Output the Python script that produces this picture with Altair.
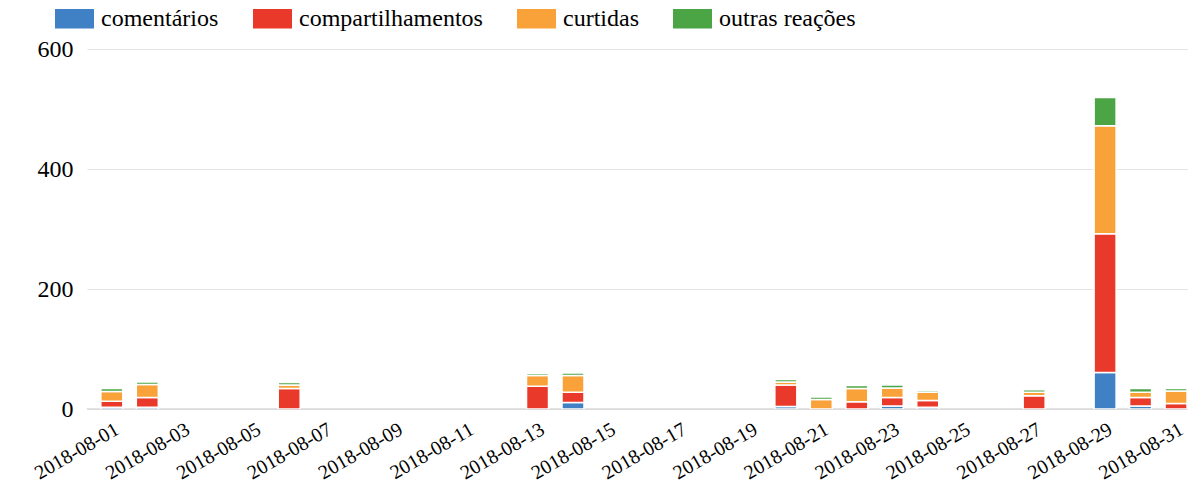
import altair as alt
import pandas as pd

# Daily engagement on posts, August 2018 (only days with activity)
dates = [
    "2018-08-01", "2018-08-02", "2018-08-06", "2018-08-13", "2018-08-14",
    "2018-08-20", "2018-08-21", "2018-08-22", "2018-08-23", "2018-08-24",
    "2018-08-27", "2018-08-29", "2018-08-30", "2018-08-31",
]
comentarios = [3, 3, 0, 0, 11, 4, 0, 0, 5, 3, 0, 61, 5, 0]
compartilhamentos = [10, 16, 34, 38, 17, 36, 0, 12, 14, 11, 22, 231, 14, 9]
curtidas = [16, 22, 6, 18, 28, 5, 16, 22, 16, 14, 6, 180, 9, 21]
outras_reacoes = [5, 4, 4, 3, 4, 4, 4, 5, 5, 3, 4, 47, 6, 4]

series = ["comentários", "compartilhamentos", "curtidas", "outras reações"]
colors = ["#4080c4", "#e8392a", "#f9a23a", "#4ba545"]
tick_days = list(range(1, 32, 2))
y_ticks = [0, 200, 400, 600]

rows = []
for i, d in enumerate(dates):
    for k, vals in enumerate([comentarios, compartilhamentos, curtidas, outras_reacoes]):
        if vals[i] > 0:
            rows.append({"data": d, "tipo": series[k], "ordem": k, "valor": vals[i]})
df = pd.DataFrame(rows)

FONT = "Liberation Serif"

x_scale = alt.Scale(
    type="utc",
    domain=[
        alt.DateTime(year=2018, month=7, date=31, hours=10, minutes=35, utc=True),
        alt.DateTime(year=2018, month=8, date=31, hours=4, minutes=42, utc=True),
    ],
)

bars = alt.Chart(df).mark_bar(size=22, clip=True, stroke="white", strokeWidth=1.5).encode(
    x=alt.X(
        "data:T",
        scale=x_scale,
        axis=alt.Axis(
            values=[alt.DateTime(year=2018, month=8, date=d, utc=True) for d in tick_days],
            format="%Y-%m-%d",
            title=None,
            grid=False,
            ticks=False,
            domain=False,
            labelAngle=-30,
            labelAlign="right",
            labelBaseline="top",
            labelPadding=10,
            labelFontSize=20,
            labelColor="black",
            labelOverlap=False,
            labelFlush=False,
            labelBound=False,
        ),
    ),
    y=alt.Y(
        "sum(valor):Q",
        stack="zero",
        scale=alt.Scale(domain=[0, 600], nice=False),
        axis=alt.Axis(
            values=y_ticks,
            title=None,
            ticks=False,
            domain=False,
            gridColor="#e4e4e4",
            gridWidth=1,
            labelPadding=14,
            labelFontSize=24,
            labelColor="black",
        ),
    ),
    color=alt.Color(
        "tipo:N",
        scale=alt.Scale(domain=series, range=colors),
        legend=alt.Legend(
            title=None,
            orient="none",
            legendX=-32,
            legendY=-50,
            direction="horizontal",
            symbolType="M-1,-0.5H1V0.5H-1Z",
            symbolSize=1521,
            symbolStrokeWidth=0,
            symbolOpacity=1,
            labelFontSize=24,
            labelColor="black",
            labelOffset=7,
            labelLimit=400,
            columnPadding=34,
            padding=0,
        ),
    ),
    order=alt.Order("ordem:Q"),
)

zero_line = alt.Chart(pd.DataFrame({"y": [0]})).mark_rule(color="#d9d9d9", strokeWidth=1.5).encode(
    y=alt.Y("y:Q")
)

chart = (
    alt.layer(zero_line, bars)
    .properties(
        width=1101,
        height=360,
        autosize=alt.AutoSizeParams(type="none"),
        padding={"left": 87, "top": 49, "right": 0, "bottom": 75},
    )
    .configure(background="white", font=FONT)
    .configure_axis(labelFont=FONT)
    .configure_legend(labelFont=FONT)
    .configure_view(stroke=None)
)

chart.save("out.html", embed_options={"renderer": "svg", "actions": False})
